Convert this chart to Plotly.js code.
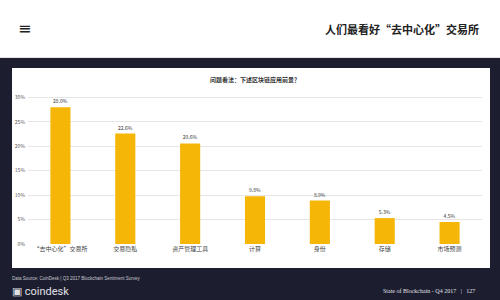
<!DOCTYPE html>
<html><head><meta charset="utf-8">
<script src="https://cdn.plot.ly/plotly-3.0.1.min.js"></script>
<style>html,body{margin:0;padding:0;background:#1c1e2f;}#c{width:500px;height:300px;}</style>
</head><body><div id="c"></div>
<script>
const categories = ['“去中心化”交易所', '交易隐私', '资产管理工具', '计算', '身份', '存储', '市场预测'];
const values = [28.0, 22.6, 20.6, 9.8, 8.9, 5.3, 4.5];
const valueLabels = ['28.0%', '22.6%', '20.6%', '9.8%', '8.9%', '5.3%', '4.5%'];
const yTicks = [0, 5, 10, 15, 20, 25, 30];
const yTickLabels = ['0%', '5%', '10%', '15%', '20%', '25%', '30%'];

const F = '"Noto Sans CJK SC", "Noto Sans", sans-serif';
const trace = {
  type: 'bar', x: categories, y: values,
  marker: {color: '#F6B607'}, width: 0.31,
  text: valueLabels, textposition: 'outside', cliponaxis: false,
  textfont: {family: F, size: 5, color: '#333'},
  hoverinfo: 'none'
};
const layout = {
  width: 500, height: 300,
  margin: {l: 28, r: 18, t: 96, b: 56},
  paper_bgcolor: '#1c1e2f', plot_bgcolor: 'rgba(0,0,0,0)',
  showlegend: false, bargap: 0.69,
  xaxis: {type: 'category', showgrid: false, zeroline: false, showline: false,
    ticks: '', tickfont: {family: F, size: 6, color: '#444'}, tickangle: 0,
    range: [-0.5, 6.5]},
  yaxis: {range: [0, 30.3], tickvals: yTicks, ticktext: yTickLabels,
    showgrid: true, gridcolor: '#e6e6e6', gridwidth: 1, zeroline: false,
    ticks: '', tickfont: {family: F, size: 5, color: '#555'}, ticklabelstandoff: 2},
  shapes: [
    {type: 'rect', xref: 'paper', yref: 'paper', x0: -0.07, x1: 1.05, y0: 1.26, y1: 1.66,
     fillcolor: '#ffffff', line: {width: 0}, layer: 'below'},
    {type: 'line', xref: 'paper', yref: 'paper', x0: -0.07, x1: 1.05, y0: 1.26, y1: 1.26,
     line: {color: '#e4e4e8', width: 1}, layer: 'below'},
    {type: 'rect', xref: 'paper', yref: 'paper', x0: -0.0352, x1: 1.0176, y0: -0.162, y1: 1.189,
     fillcolor: '#ffffff', line: {width: 0}, layer: 'below'}
  ],
  annotations: [
    {xref: 'paper', yref: 'paper', x: -0.0352 + 0.009, y: 1.455, xanchor: 'left', yanchor: 'middle',
     text: '≡', showarrow: false, font: {family: 'DejaVu Sans', size: 16, color: '#222'}},
    {xref: 'paper', yref: 'paper', x: 0.997, y: 1.45, xanchor: 'right', yanchor: 'middle',
     text: '<b>人们最看好“去中心化”交易所</b>', showarrow: false, font: {family: F, size: 11, color: '#222'}},
    {xref: 'paper', yref: 'paper', x: 0.5, y: 1.11, xanchor: 'center', yanchor: 'middle',
     text: '<b>问题看法：下述区块链应用前景？</b>', showarrow: false, font: {family: F, size: 6, color: '#333'}},
    {xref: 'paper', yref: 'paper', x: -0.04, y: -0.235, xanchor: 'left', yanchor: 'middle',
     text: 'Data Source: CoinDesk | Q3 2017 Blockchain Sentiment Survey', showarrow: false,
     font: {family: 'Liberation Sans', size: 4.5, color: '#c8c8d0'}},
    {xref: 'paper', yref: 'paper', x: -0.04, y: -0.32, xanchor: 'left', yanchor: 'middle',
     text: '▣ coindesk', showarrow: false, font: {family: 'Roboto', size: 11, color: '#e0e0e6'}},
    {xref: 'paper', yref: 'paper', x: 0.99, y: -0.315, xanchor: 'right', yanchor: 'middle',
     text: 'State of Blockchain - Q4 2017   |   127', showarrow: false,
     font: {family: 'Liberation Serif', size: 6, color: '#e0e0e6'}}
  ]
};
Plotly.newPlot('c', [trace], layout, {staticPlot: true, displayModeBar: false});
</script>
</body></html>
